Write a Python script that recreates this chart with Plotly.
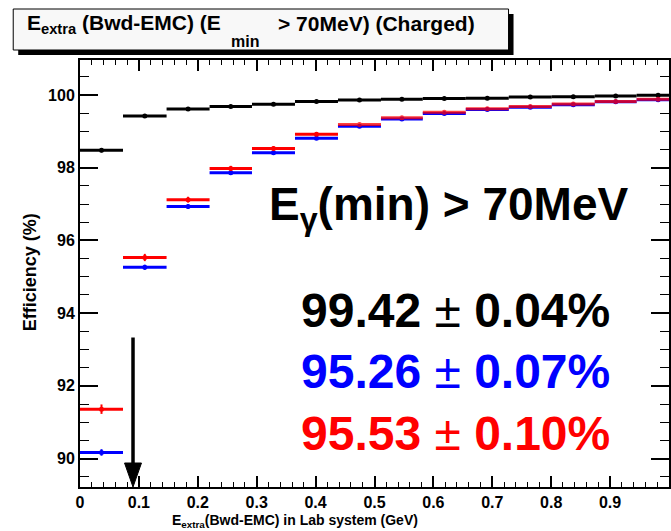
import plotly.graph_objects as go

# ---------------- data ----------------
bin_edges = [0.0, 0.073, 0.147, 0.220, 0.292, 0.365, 0.438, 0.511, 0.582,
             0.655, 0.728, 0.801, 0.874, 0.945, 1.018]

eff_black = [98.48, 99.42, 99.61, 99.68, 99.74, 99.82, 99.86, 99.88, 99.90,
             99.91, 99.94, 99.95, 99.97, 99.99]
err_black = [0.06, 0.04, 0.03, 0.03, 0.02, 0.02, 0.02, 0.02, 0.01, 0.01,
             0.01, 0.01, 0.01, 0.01]

eff_blue = [90.17, 95.26, 96.93, 97.86, 98.41, 98.81, 99.14, 99.34, 99.49,
            99.60, 99.66, 99.73, 99.81, 99.87]
err_blue = [0.09, 0.07, 0.06, 0.05, 0.04, 0.04, 0.03, 0.03, 0.03, 0.02,
            0.02, 0.02, 0.02, 0.02]

eff_red = [91.36, 95.53, 97.12, 97.98, 98.53, 98.92, 99.19, 99.37, 99.52,
           99.62, 99.68, 99.75, 99.82, 99.88]
err_red = [0.13, 0.10, 0.08, 0.07, 0.06, 0.05, 0.04, 0.04, 0.03, 0.03,
           0.03, 0.02, 0.02, 0.02]

x_ticks = [0, 0.1, 0.2, 0.3, 0.4, 0.5, 0.6, 0.7, 0.8, 0.9]
y_ticks = [90, 92, 94, 96, 98, 100]

arrow_x = 0.09
arrow_top = 93.33

# ---------------- layout geometry ----------------
W, H = 671, 531
ML, MR, MT, MB = 80, 0, 60, 44
PW, PH = W - ML - MR, H - MT - MB
X_RANGE = [0.0, 1.0]
Y_RANGE = [89.22, 100.96]


def px(xpix):
    return (xpix - ML) / PW


def py(ypix):
    return (H - MB - ypix) / PH


FONT = "Liberation Sans"

centers = [(a + b) / 2 for a, b in zip(bin_edges[:-1], bin_edges[1:])]
half_w = [(b - a) / 2 for a, b in zip(bin_edges[:-1], bin_edges[1:])]


def series(sl, vals, errs, color, opacity=1.0):
    return go.Scatter(
        x=centers[sl], y=vals[sl], mode="markers",
        marker=dict(color=color, size=5),
        opacity=opacity,
        error_x=dict(type="data", array=half_w[sl], color=color, thickness=3, width=0),
        error_y=dict(type="data", array=errs[sl], color=color, thickness=2, width=0),
        hoverinfo="skip",
    )


ALL = slice(None)
SEP = slice(0, 6)      # bins where red and blue are clearly apart
OVL = slice(6, None)   # bins where red lies on top of blue

fig = go.Figure()
fig.add_trace(series(ALL, eff_black, err_black, "#000000"))
fig.add_trace(series(ALL, eff_blue, err_blue, "#0000ff"))
fig.add_trace(series(SEP, eff_red, err_red, "#ff0000"))
fig.add_trace(series(OVL, eff_red, err_red, "#ff0000", opacity=0.75))

axis_common = dict(
    ticks="inside", tickcolor="black", tickwidth=1.5,
    showline=True, linecolor="black", linewidth=2, mirror="ticks",
    showgrid=False, zeroline=False,
    tickfont=dict(family=FONT, size=16, color="black", weight="bold"),
)

fig.update_xaxes(
    range=X_RANGE, tickmode="array", tickvals=x_ticks, ticklen=11,
    minor=dict(tick0=0, dtick=0.02, ticks="inside", ticklen=5, tickwidth=1, tickcolor="black"),
    **axis_common,
)
fig.update_yaxes(
    range=Y_RANGE, tickmode="array", tickvals=y_ticks, ticklen=18,
    minor=dict(tick0=90, dtick=0.5, ticks="inside", ticklen=9, tickwidth=1, tickcolor="black"),
    **axis_common,
)

shapes = [
    # title box shadow and box
    dict(type="rect", xref="paper", yref="paper", x0=px(18), x1=px(515), y0=py(55), y1=py(14),
         fillcolor="black", line=dict(width=0), layer="above"),
    dict(type="rect", xref="paper", yref="paper", x0=px(13), x1=px(510), y0=py(50), y1=py(9),
         fillcolor="#f8f8f8", line=dict(color="black", width=1), layer="above"),
]

# arrow (line + triangular head), head size in pixels converted to data units
head_len_px, head_half_px = 24, 8.5
xs = (X_RANGE[1] - X_RANGE[0]) / PW
ys = (Y_RANGE[1] - Y_RANGE[0]) / PH
tip_y = Y_RANGE[0]
base_y = tip_y + head_len_px * ys
shapes.append(dict(type="line", xref="x", yref="y", x0=arrow_x, x1=arrow_x, y0=arrow_top, y1=base_y,
                   line=dict(color="black", width=3.5)))
shapes.append(dict(type="path", xref="x", yref="y",
                   path=f"M {arrow_x - head_half_px * xs},{base_y} L {arrow_x + head_half_px * xs},{base_y} "
                        f"L {arrow_x},{tip_y} Z",
                   fillcolor="black", line=dict(color="black", width=1)))

PM = '<span style="font-weight:normal">±</span>'

annotations = [
    # title pieces
    dict(text="E<sub>extra</sub> (Bwd-EMC) (E", x=px(25), y=py(24), xanchor="left", yanchor="middle",
         font=dict(size=21)),
    dict(text="min", x=px(230), y=py(42), xanchor="left", yanchor="middle", font=dict(size=16)),
    dict(text="> 70MeV) (Charged)", x=px(277), y=py(24), xanchor="left", yanchor="middle",
         font=dict(size=21)),
    # axis titles
    dict(text="Efficiency (%)", x=px(30), y=py(272), textangle=-90, xanchor="center",
         yanchor="middle", font=dict(size=18)),
    dict(text="E<sub>extra</sub>(Bwd-EMC) in Lab system (GeV)", x=px(296), y=py(521),
         xanchor="center", yanchor="middle", font=dict(size=14)),
    # big labels
    dict(text="E<sub>γ</sub>(min) > 70MeV", x=px(268), y=py(207), xanchor="left", yanchor="middle",
         font=dict(size=46)),
    dict(text=f"99.42 {PM} 0.04%", x=px(300), y=py(310), xanchor="left", yanchor="middle",
         font=dict(size=48, color="#000000")),
    dict(text=f"95.26 {PM} 0.07%", x=px(300), y=py(372), xanchor="left", yanchor="middle",
         font=dict(size=48, color="#0000ff")),
    dict(text=f"95.53 {PM} 0.10%", x=px(300), y=py(433), xanchor="left", yanchor="middle",
         font=dict(size=48, color="#ff0000")),
]
for a in annotations:
    a.update(xref="paper", yref="paper", showarrow=False)
    f = dict(family=FONT, color="black", weight="bold")
    f.update(a["font"])
    a["font"] = f

fig.update_layout(
    width=W, height=H, margin=dict(l=ML, r=MR, t=MT, b=MB),
    plot_bgcolor="white", paper_bgcolor="white", showlegend=False,
    font=dict(family=FONT, size=16, color="black", weight="bold"),
    shapes=shapes, annotations=annotations,
)

fig.write_html("out.html")
